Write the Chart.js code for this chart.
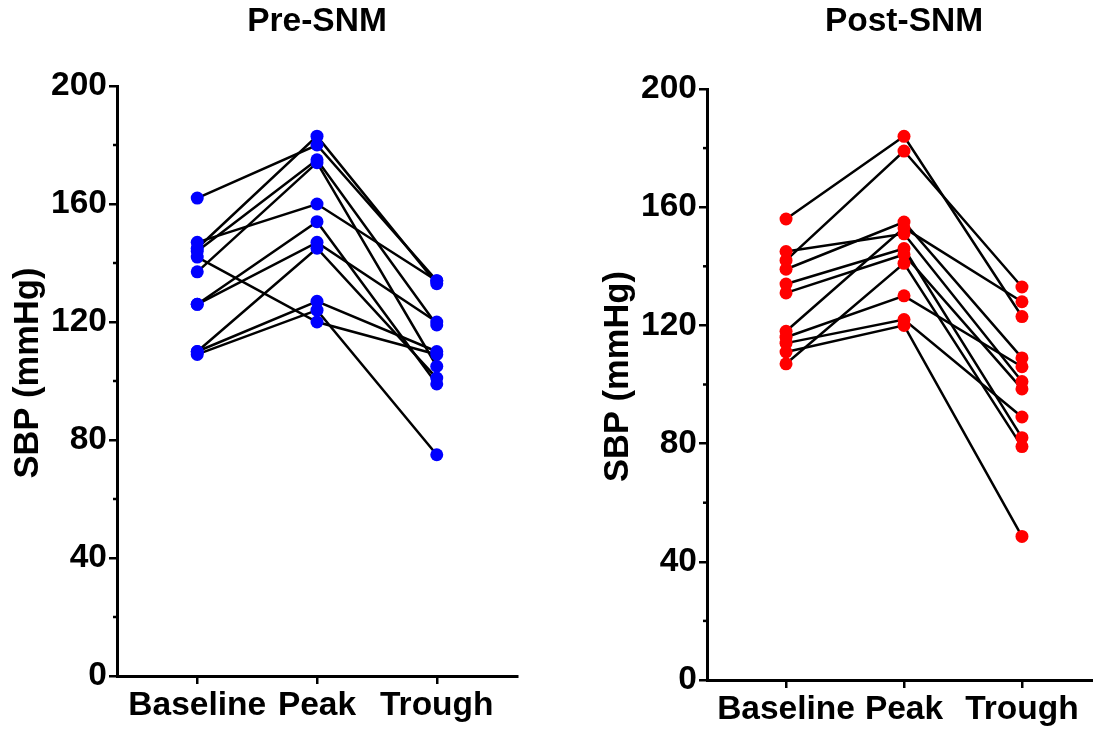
<!DOCTYPE html>
<html><head><meta charset="utf-8">
<script src="https://cdn.jsdelivr.net/npm/chart.js@4"></script>
<style>
html,body{margin:0;padding:0;background:#fff;overflow:hidden;width:1093px;height:732px;position:relative;}
.wrap{position:absolute;top:0;height:732px;width:546px;}
#w1{left:0}
#w2{left:590px}
</style></head><body>
<div class="wrap" id="w1"><canvas id="c1" width="546" height="732"></canvas></div>
<div class="wrap" id="w2"><canvas id="c2" width="546" height="732"></canvas></div>
<script>
const categories = ['Baseline', 'Peak', 'Trough'];
const yTickValues = [0, 40, 80, 120, 160, 200];
const yMinorTickValues = [20, 60, 100, 140, 180];
const yAxisTitle = 'SBP (mmHg)';

const preBaseline = [162, 145, 147, 144, 137, 142, 126, 126, 110, 110, 109];
const prePeak     = [180, 183, 160, 175, 174, 120, 154, 147, 145, 127, 124];
const preTrough   = [134, 133, 134, 119, 105, 109, 99, 120, 101, 110, 75];

const postBaseline = [156, 142, 145, 139, 118, 134, 131, 107, 116, 114, 111];
const postPeak     = [184, 179, 151, 155, 153, 146, 144, 141, 130, 122, 120];
const postTrough   = [123, 133, 101, 109, 128, 82, 98.5, 79, 106, 89, 48.6];

const FAMILY = '"Liberation Sans", Arial, sans-serif';
const FONT = {family: FAMILY, size: 33.5, weight: 'bold'};

const axisDecor = {
  id: 'axisDecor',
  afterDraw(chart) {
    const s = chart.scales.y;
    const ctx = chart.ctx;
    ctx.save();
    ctx.strokeStyle = '#000';
    ctx.lineWidth = 2.5;
    yMinorTickValues.forEach(v => {
      const y = s.getPixelForValue(v);
      ctx.beginPath();
      ctx.moveTo(s.right - 4, y);
      ctx.lineTo(s.right, y);
      ctx.stroke();
    });
    // y axis title
    const ca = chart.chartArea;
    ctx.translate(28, (ca.top + ca.bottom) / 2 - 8);
    ctx.rotate(-Math.PI / 2);
    ctx.fillStyle = '#000';
    ctx.font = 'bold 34.5px ' + FAMILY;
    ctx.textAlign = 'center';
    ctx.textBaseline = 'middle';
    ctx.fillText(yAxisTitle, 0, 0);
    ctx.restore();
  }
};

function makeChart(id, series, color, title, cfg) {
  const n = series[0].length;
  const datasets = [];
  for (let s = 0; s < n; s++) {
    datasets.push({
      data: categories.map((c, i) => ({x: i, y: series[i][s]})),
      borderColor: '#000', borderWidth: 2.5, pointRadius: 0, fill: false, order: 2
    });
  }
  const pts = [];
  categories.forEach((c, i) => series[i].forEach(v => pts.push({x: i, y: v})));
  datasets.push({
    data: pts, showLine: false, pointRadius: 6.5, pointBackgroundColor: color,
    pointBorderWidth: 0, pointBorderColor: color, order: 1
  });
  new Chart(document.getElementById(id), {
    type: 'line',
    data: {datasets},
    options: {
      responsive: false, animation: false, devicePixelRatio: 1,
      layout: {padding: {left: 0, right: cfg.padRight, top: 0, bottom: 0}},
      plugins: {
        legend: {display: false}, tooltip: {enabled: false},
        title: {display: true, text: title, font: FONT, color: '#000', fullSize: false,
                padding: {top: 2, bottom: cfg.titleBottom}}
      },
      scales: {
        x: {
          type: 'linear', min: -0.67, max: 2.67,
          afterBuildTicks: sc => { sc.ticks = categories.map((c, i) => ({value: i})); },
          afterFit: sc => { sc.height = cfg.xHeight; },
          ticks: {callback: v => categories[v] ?? '', font: FONT, color: '#000', padding: 2,
                  maxRotation: 0, autoSkip: false},
          grid: {drawOnChartArea: false, drawTicks: true, tickLength: 8, lineWidth: 2.5, color: '#000'},
          border: {display: true, color: '#000', width: 3}
        },
        y: {
          min: 0, max: 200,
          afterBuildTicks: sc => { sc.ticks = yTickValues.map(v => ({value: v})); },
          afterFit: sc => { sc.width = 117; },
          ticks: {font: FONT, color: '#000', padding: 2},
          grid: {drawOnChartArea: false, drawTicks: true, tickLength: 8, lineWidth: 2.5, color: '#000'},
          border: {display: true, color: '#000', width: 3}
        }
      }
    },
    plugins: [axisDecor]
  });
}

makeChart('c1', [preBaseline, prePeak, preTrough], '#0000FF', 'Pre-SNM',
          {padRight: 29, titleBottom: 43.8, xHeight: 56});
makeChart('c2', [postBaseline, postPeak, postTrough], '#FF0000', 'Post-SNM',
          {padRight: 35, titleBottom: 46.8, xHeight: 52});
</script>
</body></html>
